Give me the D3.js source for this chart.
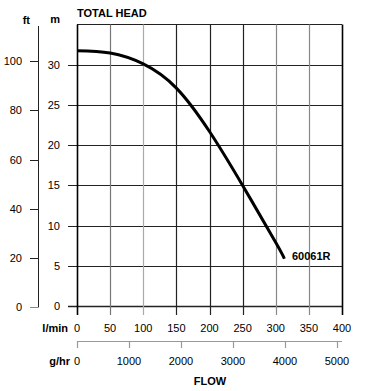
<!DOCTYPE html>
<html><head><meta charset="utf-8">
<script src="https://cdn.jsdelivr.net/npm/d3@7"></script>
<style>
body{margin:0;background:#fff;}
svg text{font-family:"Liberation Sans",Arial,sans-serif;font-size:11px;fill:#000;}
.b{font-weight:bold;}
</style></head><body>
<svg id="c" width="379" height="391"></svg>
<script>
const flowLmin = [0, 50, 100, 150, 200, 250, 300, 313];
const headM = [31.75, 31.45, 30.1, 27.1, 21.7, 15.0, 7.9, 5.9];
const lminTicks = [0, 50, 100, 150, 200, 250, 300, 350, 400];
const ghrTicks = [0, 1000, 2000, 3000, 4000, 5000];
const mTicks = [0, 5, 10, 15, 20, 25, 30];
const ftTicks = [0, 20, 40, 60, 80, 100];
const vGridColors = ["#000", "#777", "#aaa", "#222", "#222", "#222", "#888", "#888", "#000"];
const seriesName = "60061R";

const svg = d3.select("#c");
const x = d3.scaleLinear().domain([0, 400]).range([77, 342]);
const y = d3.scaleLinear().domain([0, 35]).range([306.2, 24.5]);
const xg = d3.scaleLinear().domain([0, 5000]).range([77, 337]);
const yft = d3.scaleLinear().domain([0, 100]).range([307.3, 61]);

// horizontal gridlines (m)
svg.append("g").selectAll("line").data(mTicks).join("line")
  .attr("x1", 68).attr("x2", x(400))
  .attr("y1", d => Math.round(y(d)) + 0.5).attr("y2", d => Math.round(y(d)) + 0.5)
  .attr("stroke", "#222").attr("stroke-width", d => d === 0 ? 1.6 : 1);
// top border
svg.append("line").attr("x1", x(0)).attr("x2", x(400)).attr("y1", 24.5).attr("y2", 24.5)
  .attr("stroke", "#222").attr("stroke-width", 1.2);
// vertical gridlines
svg.append("g").selectAll("line").data(lminTicks).join("line")
  .attr("x1", d => Math.round(x(d)) + 0.5).attr("x2", d => Math.round(x(d)) + 0.5)
  .attr("y1", 24.5).attr("y2", 315)
  .attr("stroke", (d, i) => vGridColors[i])
  .attr("stroke-width", (d, i) => (i === 0 || i === 8) ? 1.6 : 1.2);

// m labels
svg.append("g").selectAll("text").data(mTicks).join("text")
  .attr("x", 60).attr("y", d => y(d) + 4).attr("text-anchor", "end")
  .text(d => d);
svg.append("text").attr("class", "b").attr("x", 60).attr("y", 23).attr("text-anchor", "end").text("m");

// ft axis
svg.append("line").attr("x1", 38.5).attr("x2", 38.5).attr("y1", 26).attr("y2", yft(0))
  .attr("stroke", "#222").attr("stroke-width", 1);
svg.append("g").selectAll("line").data(ftTicks).join("line")
  .attr("x1", 30).attr("x2", 38.5)
  .attr("y1", d => Math.round(yft(d)) + 0.5).attr("y2", d => Math.round(yft(d)) + 0.5)
  .attr("stroke", d => d === 0 ? "#888" : "#222");
svg.append("g").selectAll("text").data(ftTicks).join("text")
  .attr("x", 22).attr("y", d => yft(d) + 4).attr("text-anchor", "end")
  .text(d => d);
svg.append("text").attr("class", "b").attr("x", 30).attr("y", 24).attr("text-anchor", "end").text("ft");

svg.append("text").attr("class", "b").attr("x", 77).attr("y", 17).text("TOTAL HEAD");

// l/min labels
svg.append("g").selectAll("text").data(lminTicks).join("text")
  .attr("x", d => x(d)).attr("y", 332).attr("text-anchor", "middle").text(d => d);
svg.append("text").attr("class", "b").attr("x", 68).attr("y", 332).attr("text-anchor", "end").text("l/min");

// g/hr axis
svg.append("line").attr("x1", x(0)).attr("x2", x(400)).attr("y1", 341.5).attr("y2", 341.5)
  .attr("stroke", "#999").attr("stroke-width", 1.2);
svg.append("g").selectAll("line").data(ghrTicks).join("line")
  .attr("x1", d => Math.round(xg(d)) + 0.5).attr("x2", d => Math.round(xg(d)) + 0.5)
  .attr("y1", 341).attr("y2", 348)
  .attr("stroke", "#999").attr("stroke-width", 1.2);
svg.append("g").selectAll("text").data(ghrTicks).join("text")
  .attr("x", d => xg(d)).attr("y", 365).attr("text-anchor", "middle").text(d => d);
svg.append("text").attr("class", "b").attr("x", 70).attr("y", 365).attr("text-anchor", "end").text("g/hr");
svg.append("text").attr("class", "b").attr("x", 210).attr("y", 385).attr("text-anchor", "middle").text("FLOW");

// curve
const pts = flowLmin.map((f, i) => [f, headM[i]]);
svg.append("path").datum(pts)
  .attr("d", d3.line().x(d => x(d[0])).y(d => y(d[1])).curve(d3.curveNatural))
  .attr("fill", "none").attr("stroke", "#000").attr("stroke-width", 3);
svg.append("text").attr("class", "b").attr("x", 292).attr("y", 260).text(seriesName);
</script>
</body></html>
